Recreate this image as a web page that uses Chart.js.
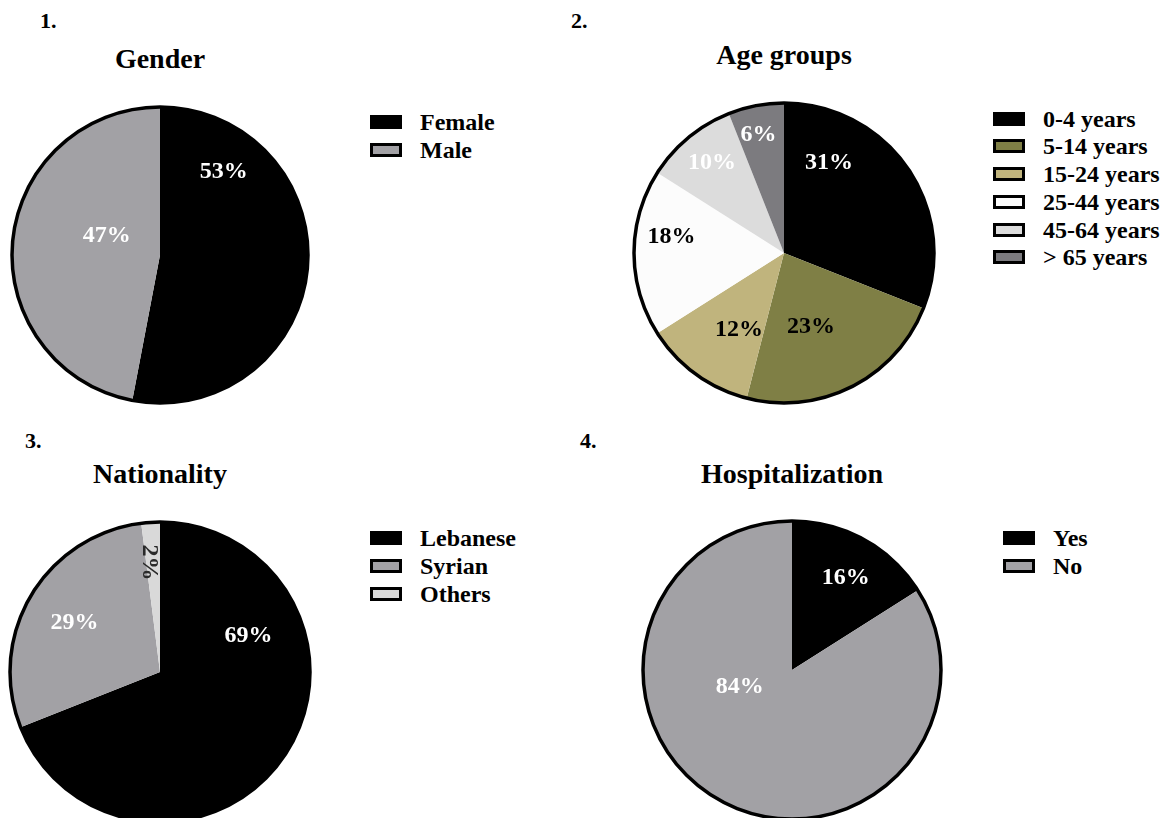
<!DOCTYPE html>
<html>
<head>
<meta charset="utf-8">
<script src="https://cdn.jsdelivr.net/npm/chart.js@4/dist/chart.umd.min.js"></script>
<style>
  html, body { margin: 0; padding: 0; background: #ffffff; }
  body { width: 1169px; height: 818px; position: relative; overflow: hidden;
         font-family: "Liberation Serif", "Times New Roman", serif; font-weight: bold; color: #000; }
  .txt { position: absolute; white-space: nowrap; line-height: 1; }
  .title { font-size: 28px; text-align: center; width: 400px; }
  .num { font-size: 22px; }
  .pie { position: absolute; }
  .legend { position: absolute; margin: 0; padding: 0; list-style: none; }
  .legend li { display: flex; align-items: flex-start; font-size: 24px; line-height: 24px; }
  .legend .box { box-sizing: border-box; width: 32px; height: 14px; border: 3px solid #000; margin: 5px 18px 0 0; }
</style>
</head>
<body>
<script>
// --- Données ---
const genderLabels = ['Female', 'Male'];
const genderValues = [53, 47];

const ageLabels = ['0-4 years', '5-14 years', '15-24 years', '25-44 years', '45-64 years', '> 65 years'];
const ageValues = [31, 23, 12, 18, 10, 6];

const nationalityLabels = ['Lebanese', 'Syrian', 'Others'];
const nationalityValues = [69, 29, 2];

const hospLabels = ['Yes', 'No'];
const hospValues = [16, 84];

// --- Mise en page des quatre camemberts ---
const panels = [
    {
        num: '1.', numX: 40, numBase: 28, title: 'Gender', titleBase: 68,
        cx: 160, cy: 255, r: 148,
        labels: genderLabels, values: genderValues,
        colors: ['#000000', '#a2a1a5'],
        textColors: ['#ffffff', '#ffffff'],
        spots: [[0.43, -0.56], [-0.36, -0.13]],
        legendX: 370, legendY: 122, rowH: 28
    },
    {
        num: '2.', numX: 571, numBase: 28, title: 'Age groups', titleBase: 64,
        cx: 784, cy: 253, r: 150,
        labels: ageLabels, values: ageValues,
        colors: ['#000000', '#7f7f45', '#c0b47d', '#fcfcfc', '#dcdcdc', '#7c7b7f'],
        textColors: ['#ffffff', '#000000', '#000000', '#000000', '#ffffff', '#ffffff'],
        spots: [[0.30, -0.60], [0.18, 0.49], [-0.30, 0.51], [-0.75, -0.11], [-0.48, -0.60], [-0.17, -0.79]],
        legendX: 993, legendY: 118.5, rowH: 27.8
    },
    {
        num: '3.', numX: 25, numBase: 448, title: 'Nationality', titleBase: 483,
        cx: 160, cy: 672, r: 150,
        labels: nationalityLabels, values: nationalityValues,
        colors: ['#000000', '#a2a1a5', '#d9d9d9'],
        textColors: ['#ffffff', '#ffffff', '#2a2a2a'],
        spots: [[0.59, -0.24], [-0.57, -0.33], [-0.07, -0.73]],
        turns: [0, 0, 90],
        legendX: 370, legendY: 538, rowH: 28
    },
    {
        num: '4.', numX: 580, numBase: 448, title: 'Hospitalization', titleBase: 483,
        cx: 792, cy: 670, r: 149,
        labels: hospLabels, values: hospValues,
        colors: ['#000000', '#a2a1a5'],
        textColors: ['#ffffff', '#ffffff'],
        spots: [[0.36, -0.62], [-0.35, 0.11]],
        legendX: 1003, legendY: 538, rowH: 28
    }
];

// Contour noir uniquement sur le bord extérieur du disque
const outline = {
    id: 'outline',
    afterDatasetsDraw(chart) {
        const arc = chart.getDatasetMeta(0).data[0];
        if (!arc) return;
        const ctx = chart.ctx;
        ctx.save();
        ctx.beginPath();
        ctx.arc(arc.x, arc.y, arc.outerRadius, 0, Math.PI * 2);
        ctx.lineWidth = 3.5;
        ctx.strokeStyle = '#000000';
        ctx.stroke();
        ctx.restore();
    }
};

// Pourcentages écrits dans chaque part
const pctLabels = {
    id: 'pctLabels',
    afterDatasetsDraw(chart, args, opts) {
        const ctx = chart.ctx;
        const arcs = chart.getDatasetMeta(0).data;
        const values = chart.data.datasets[0].data;
        ctx.save();
        ctx.font = 'bold 24px "Liberation Serif"';
        ctx.textAlign = 'center';
        ctx.textBaseline = 'middle';
        arcs.forEach((arc, i) => {
            const [dx, dy] = opts.spots[i];
            ctx.save();
            ctx.translate(arc.x + dx * arc.outerRadius, arc.y + dy * arc.outerRadius);
            ctx.rotate(((opts.turns && opts.turns[i]) || 0) * Math.PI / 180);
            ctx.fillStyle = opts.colors[i];
            ctx.fillText(values[i] + '%', 0, 0);
            ctx.restore();
        });
        ctx.restore();
    }
};

function addText(cls, text, left, base, size) {
    const el = document.createElement('div');
    el.className = 'txt ' + cls;
    el.textContent = text;
    el.style.left = left + 'px';
    el.style.top = (base - 0.8375 * size) + 'px';
    document.body.appendChild(el);
}

// Légende HTML construite à partir des items générés par Chart.js
function buildLegend(chart, p) {
    const ul = document.createElement('ul');
    ul.className = 'legend';
    ul.style.left = p.legendX + 'px';
    ul.style.top = (p.legendY - 12) + 'px';
    const items = chart.options.plugins.legend.labels.generateLabels(chart);
    items.forEach((item, i) => {
        const li = document.createElement('li');
        li.style.height = (i < items.length - 1 ? p.rowH : 24) + 'px';
        const box = document.createElement('span');
        box.className = 'box';
        box.style.background = item.fillStyle;
        const label = document.createElement('span');
        label.textContent = item.text;
        li.appendChild(box);
        li.appendChild(label);
        ul.appendChild(li);
    });
    document.body.appendChild(ul);
}

panels.forEach(p => {
    addText('num', p.num, p.numX, p.numBase, 22);
    addText('title', p.title, p.cx - 200, p.titleBase, 28);

    const pad = 6;
    const size = 2 * (p.r + pad);
    const canvas = document.createElement('canvas');
    canvas.className = 'pie';
    canvas.width = size;
    canvas.height = size;
    canvas.style.left = (p.cx - p.r - pad) + 'px';
    canvas.style.top = (p.cy - p.r - pad) + 'px';
    document.body.appendChild(canvas);

    const chart = new Chart(canvas.getContext('2d'), {
        type: 'pie',
        data: {
            labels: p.labels,
            datasets: [{
                data: p.values,
                backgroundColor: p.colors,
                borderWidth: 0
            }]
        },
        options: {
            responsive: false,
            animation: false,
            events: [],
            layout: { padding: pad },
            plugins: {
                legend: { display: false },
                tooltip: { enabled: false },
                pctLabels: { spots: p.spots, colors: p.textColors, turns: p.turns }
            }
        },
        plugins: [outline, pctLabels]
    });

    buildLegend(chart, p);
});
</script>
</body>
</html>
